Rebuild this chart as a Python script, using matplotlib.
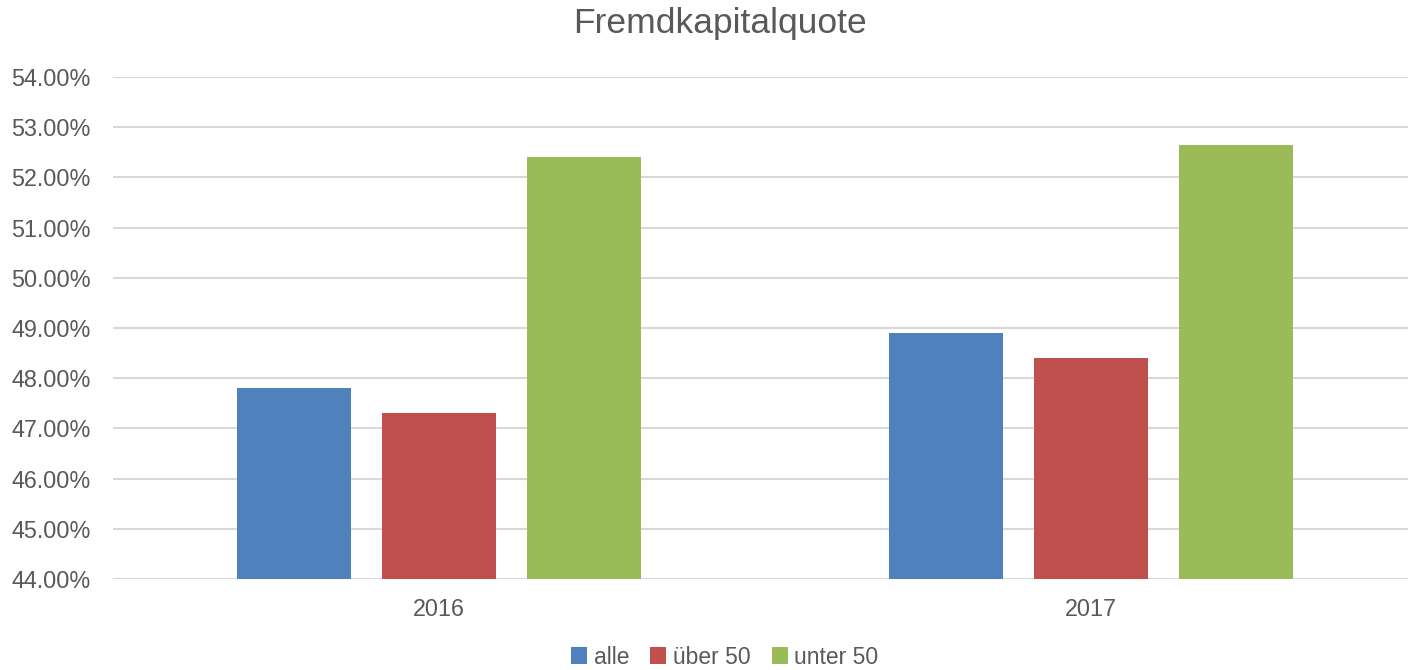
import numpy as np
import matplotlib
matplotlib.use("Agg")
import matplotlib.pyplot as plt
from matplotlib.ticker import FuncFormatter

# data
years = ["2016", "2017"]
series_names = ["alle", "über 50", "unter 50"]
alle = [47.80, 48.90]
ueber_50 = [47.31, 48.40]
unter_50 = [52.41, 52.65]
colors = ["#4F81BD", "#C0504D", "#9BBB59"]

plt.rcParams["font.family"] = ["Liberation Sans", "DejaVu Sans"]
text_color = "#595959"

W, H = 1408, 670
fig = plt.figure(figsize=(W / 100, H / 100), dpi=100)
# axes box in pixels: left 113, right 1408, top 77, bottom 579
ax = fig.add_axes([113 / W, 1 - 579 / H, (1408 - 113) / W, (579 - 77) / H])

x = np.arange(len(years))
width = 0.175
step = 0.222
for i, (name, vals) in enumerate(zip(series_names, [alle, ueber_50, unter_50])):
    ax.bar(x + (i - 1) * step, np.array(vals) - 44, bottom=44, width=width,
           color=colors[i], label=name, zorder=3)

ax.set_ylim(44, 54)
ax.set_yticks(np.arange(44, 55, 1))
ax.yaxis.set_major_formatter(FuncFormatter(lambda v, _: f"{v:.2f}%"))
ax.set_xlim(-0.5, -0.5 + (1408 - 113) / 652)
ax.set_xticks(x)
ax.set_xticklabels(years)

ax.grid(axis="y", color="#D9D9D9", linewidth=1.5, zorder=0)
for s in ax.spines.values():
    s.set_visible(False)
ax.tick_params(length=0, labelsize=16.8, colors=text_color)
ax.tick_params(axis="y", pad=16)
ax.tick_params(axis="x", pad=14)

fig.text(720 / W, 1 - 24 / H, "Fremdkapitalquote", ha="center", va="center",
         fontsize=25.5, color=text_color)

fig.legend(loc="center", bbox_to_anchor=(725 / W, 1 - 657 / H), ncol=3,
           frameon=False, fontsize=16.5, labelcolor=text_color,
           handlelength=0.7, handleheight=0.7, handletextpad=0.3,
           columnspacing=0.9)

fig.savefig("out.png", dpi=100)
